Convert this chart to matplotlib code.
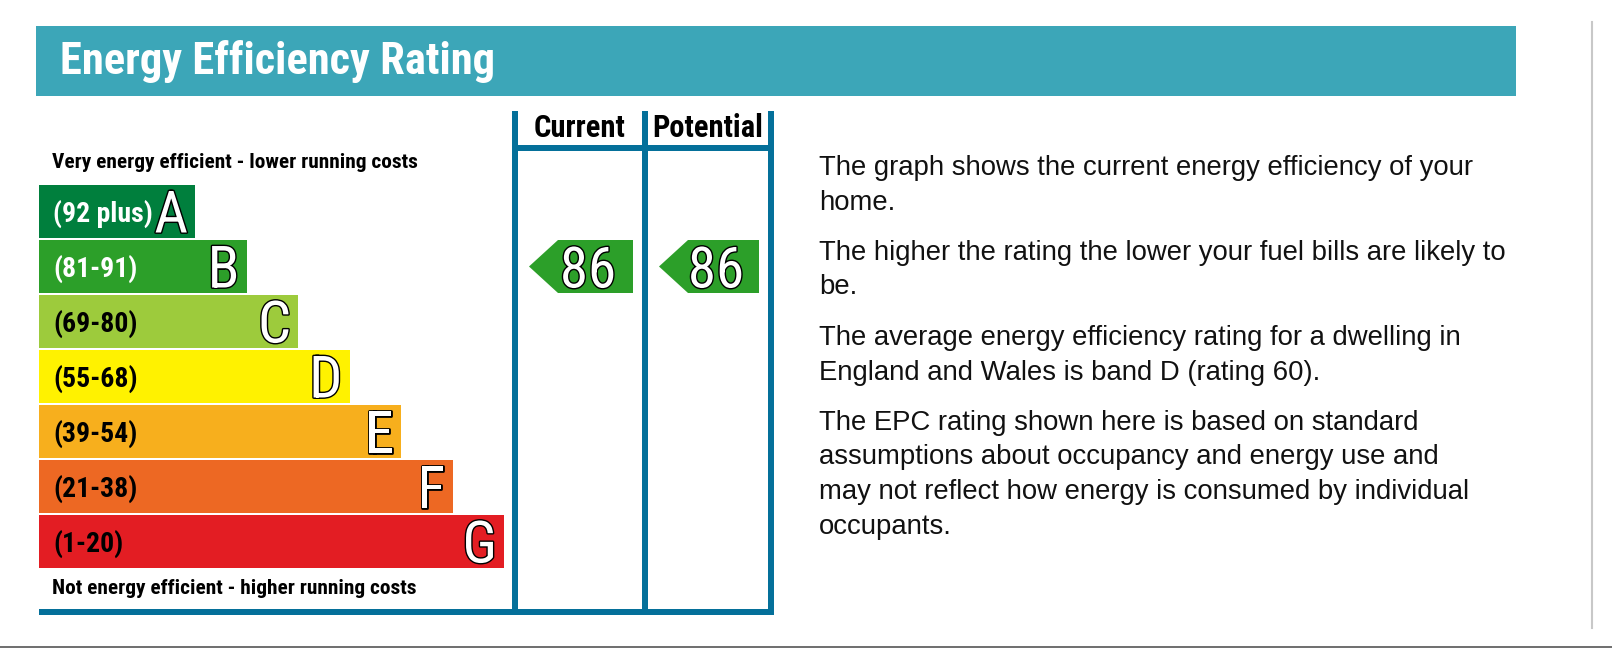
import matplotlib
matplotlib.use("Agg")
import matplotlib.pyplot as plt
import matplotlib.patheffects as pe
from matplotlib.patches import Polygon, Rectangle

# chart content
title = "Energy Efficiency Rating"
band_letters = ["A", "B", "C", "D", "E", "F", "G"]
band_ranges = ["(92 plus)", "(81-91)", "(69-80)", "(55-68)", "(39-54)", "(21-38)", "(1-20)"]
band_lower = [92, 81, 69, 55, 39, 21, 1]
band_colors = ["#007f3d", "#2c9f29", "#9dcb3c", "#fff200", "#f7af1d", "#ed6823", "#e31d23"]
label_colors = ["white", "white", "black", "black", "black", "black", "black"]
column_titles = ["Current", "Potential"]
ratings = [86, 86]
top_note = "Very energy efficient - lower running costs"
bottom_note = "Not energy efficient - higher running costs"
paragraphs = [
    ["The graph shows the current energy efficiency of your", "home."],
    ["The higher the rating the lower your fuel bills are likely to", "be."],
    ["The average energy efficiency rating for a dwelling in",
     "England and Wales is band D (rating 60)."],
    ["The EPC rating shown here is based on standard",
     "assumptions about occupancy and energy use and",
     "may not reflect how energy is consumed by individual",
     "occupants."],
]

FRAME = "#04709a"
BANNER = "#3ca6b8"
NARROW = dict(family=["Roboto Condensed", "DejaVu Sans"])
REGULAR = dict(family=["Liberation Sans", "DejaVu Sans"])

outline = [pe.withStroke(linewidth=2.0, foreground="black")]

fig = plt.figure(figsize=(16.12, 6.5), dpi=100)
ax = fig.add_axes([0, 0, 1, 1])
ax.set_xlim(0, 1612)
ax.set_ylim(650, 0)
ax.axis("off")

# banner
ax.add_patch(Rectangle((36, 26), 1480, 70, color=BANNER, lw=0))
ax.text(60, 74, title, color="white", fontsize=32, fontweight="bold", va="baseline", **NARROW)

# rating bands
n = len(band_letters)
left = 39
band_top, step, bh = 185, 55, 53
rights = [195 + 51.5 * i for i in range(n)]
centers = [band_top + bh / 2 + step * i for i in range(n)]
ax.barh(centers, [r - left for r in rights], left=left, height=bh, color=band_colors, lw=0)
for c, r, rng, letter, lc in zip(centers, rights, band_ranges, band_letters, label_colors):
    ax.text(53, c + 10, rng, color=lc, fontsize=20, fontweight="bold", va="baseline", **NARROW)
    ax.text(r - 7, c + 21, letter, color="white", fontsize=42, ha="right", va="baseline",
            path_effects=outline, **NARROW)

ax.text(52, 168, top_note, fontsize=15.4, fontweight="bold", va="baseline", **NARROW)
ax.text(52, 594, bottom_note, fontsize=15.4, fontweight="bold", va="baseline", **NARROW)

# current / potential columns
col_lines = [515, 645, 771]
lw = 6 * 72 / 100
for x in col_lines:
    ax.plot([x, x], [111, 615], color=FRAME, lw=lw, solid_capstyle="butt")
ax.plot([col_lines[0], col_lines[-1]], [147.5, 147.5], color=FRAME, lw=lw, solid_capstyle="butt")
ax.plot([39, col_lines[-1] + 3], [612, 612], color=FRAME, lw=lw, solid_capstyle="butt")

for j, (name, val) in enumerate(zip(column_titles, ratings)):
    x_mid = (col_lines[j] + col_lines[j + 1]) / 2
    ax.text(x_mid, 137, name, fontsize=22, fontweight="bold", ha="center", va="baseline", **NARROW)
    i = next(k for k, lo in enumerate(band_lower) if val >= lo)
    top, bot, c = centers[i] - bh / 2, centers[i] + bh / 2, centers[i]
    x0, x1 = col_lines[j] + 14, col_lines[j + 1] - 12
    ax.add_patch(Polygon([(x0, c), (x0 + 29, top), (x1, top), (x1, bot), (x0 + 29, bot)],
                         closed=True, color=band_colors[i], lw=0))
    ax.text((x0 + x1) / 2 + 7, c + 21, str(val), color="white", fontsize=41, ha="center",
            va="baseline", path_effects=outline, **NARROW)

# explanatory text
y = 175
for para in paragraphs:
    for line in para:
        ax.text(819, y, line, fontsize=19.8, va="baseline", color="#111111", **REGULAR)
        y += 34.5
    y += 16

# page edges from the screenshot
ax.plot([1592, 1592], [22, 628], color="#c8c8c8", lw=1.5)
ax.plot([0, 1612], [646.5, 646.5], color="#555555", lw=1.2)

fig.savefig("out.png", dpi=100)
